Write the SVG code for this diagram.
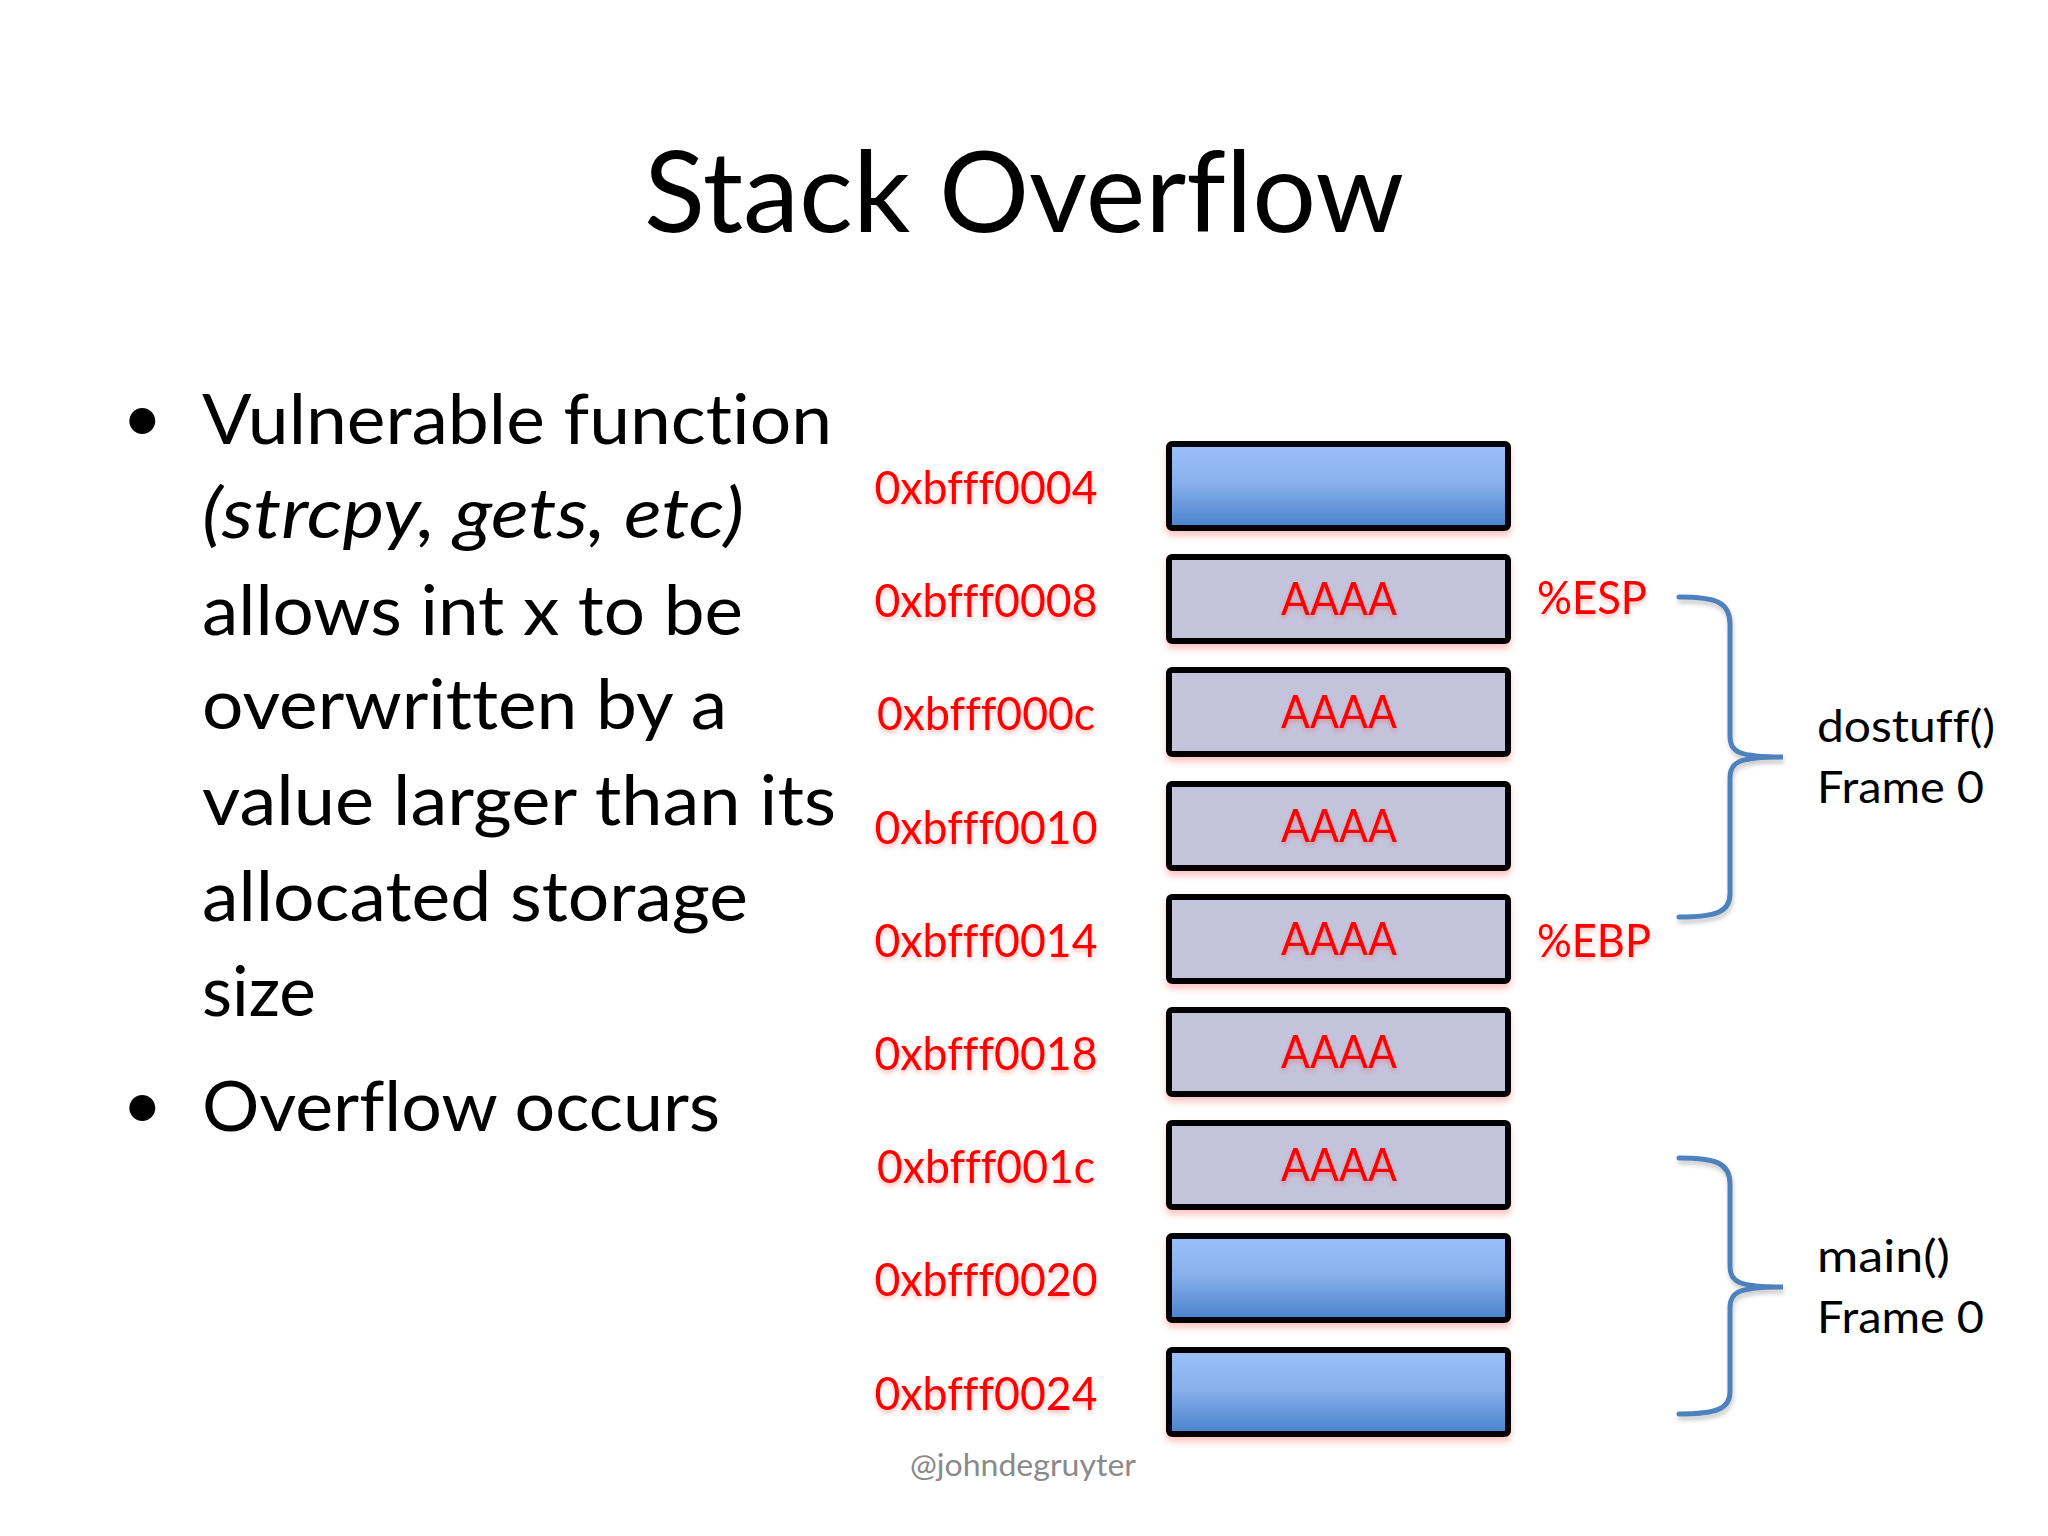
<svg xmlns="http://www.w3.org/2000/svg" width="2048" height="1536" viewBox="0 0 2048 1536">
<defs>
<linearGradient id="blue" x1="0" y1="0" x2="0" y2="1">
<stop offset="0" stop-color="#9cbff9"/>
<stop offset="0.45" stop-color="#8ab1ec"/>
<stop offset="1" stop-color="#4882cc"/>
</linearGradient>
<filter id="boxsh" x="-5%" y="-10%" width="110%" height="130%">
<feGaussianBlur in="SourceAlpha" stdDeviation="3"/>
<feOffset dy="5" result="b"/>
<feFlood flood-color="#ff5a5a" flood-opacity="0.35"/>
<feComposite in2="b" operator="in"/>
<feMerge><feMergeNode/><feMergeNode in="SourceGraphic"/></feMerge>
</filter>
<filter id="txtsh" x="-5%" y="-20%" width="110%" height="150%">
<feGaussianBlur in="SourceAlpha" stdDeviation="2"/>
<feOffset dy="3" result="b"/>
<feFlood flood-color="#ff4040" flood-opacity="0.35"/>
<feComposite in2="b" operator="in"/>
<feMerge><feMergeNode/><feMergeNode in="SourceGraphic"/></feMerge>
</filter>
<filter id="brsh" x="-20%" y="-5%" width="140%" height="110%">
<feGaussianBlur in="SourceAlpha" stdDeviation="2"/>
<feOffset dx="1" dy="4" result="b"/>
<feFlood flood-color="#000" flood-opacity="0.2"/>
<feComposite in2="b" operator="in"/>
<feMerge><feMergeNode/><feMergeNode in="SourceGraphic"/></feMerge>
</filter>
</defs>
<style>
text{font-family:Lato,"Liberation Sans",sans-serif;font-variant-ligatures:none;font-feature-settings:"liga" 0}
.title{font-size:112px;fill:#000}
.body{font-size:70px;fill:#000}
.addr{font-size:46px;fill:#ff0000;text-anchor:middle;filter:url(#txtsh)}
.reg{font-size:46px;fill:#ff0000;filter:url(#txtsh)}
.aaaa{font-size:46px;fill:#ff0000;text-anchor:middle;filter:url(#txtsh)}
.frame{font-size:45px;fill:#000}
.wm{font-size:30px;fill:#8a8a8a}
.cell{stroke:#000;stroke-width:6;filter:url(#boxsh)}
.free{fill:url(#blue)}
.used{fill:#c3c4dc}
.brace{fill:none;stroke:#4f81bd;stroke-width:5;stroke-linecap:round;filter:url(#brsh)}
</style>
<rect width="2048" height="1536" fill="#fff"/>
<text class="title" x="644" y="232" textLength="760" lengthAdjust="spacingAndGlyphs">Stack Overflow</text>
<g id="bullets">
<text class="body" x="122" y="442">•</text>
<text class="body" x="202" y="444" textLength="630" lengthAdjust="spacingAndGlyphs">Vulnerable function</text>
<text class="body" x="202" y="538" font-style="italic" textLength="542" lengthAdjust="spacingAndGlyphs">(strcpy, gets, etc)</text>
<text class="body" x="202" y="635" textLength="541" lengthAdjust="spacingAndGlyphs">allows int x to be</text>
<text class="body" x="202" y="729" textLength="525" lengthAdjust="spacingAndGlyphs">overwritten by a</text>
<text class="body" x="202" y="825" textLength="634" lengthAdjust="spacingAndGlyphs">value larger than its</text>
<text class="body" x="202" y="921" textLength="546" lengthAdjust="spacingAndGlyphs">allocated storage</text>
<text class="body" x="202" y="1016" textLength="114" lengthAdjust="spacingAndGlyphs">size</text>
<text class="body" x="122" y="1129">•</text>
<text class="body" x="202" y="1131" textLength="518" lengthAdjust="spacingAndGlyphs">Overflow occurs</text>
</g>
<g id="addresses">
<text class="addr" x="986" y="504" textLength="223" lengthAdjust="spacingAndGlyphs">0xbfff0004</text>
<text class="addr" x="986" y="617" textLength="223" lengthAdjust="spacingAndGlyphs">0xbfff0008</text>
<text class="addr" x="986" y="730" textLength="218" lengthAdjust="spacingAndGlyphs">0xbfff000c</text>
<text class="addr" x="986" y="844" textLength="223" lengthAdjust="spacingAndGlyphs">0xbfff0010</text>
<text class="addr" x="986" y="957" textLength="223" lengthAdjust="spacingAndGlyphs">0xbfff0014</text>
<text class="addr" x="986" y="1070" textLength="223" lengthAdjust="spacingAndGlyphs">0xbfff0018</text>
<text class="addr" x="986" y="1183" textLength="218" lengthAdjust="spacingAndGlyphs">0xbfff001c</text>
<text class="addr" x="986" y="1296" textLength="223" lengthAdjust="spacingAndGlyphs">0xbfff0020</text>
<text class="addr" x="986" y="1410" textLength="223" lengthAdjust="spacingAndGlyphs">0xbfff0024</text>
</g>
<g id="cell0"><rect class="cell free" x="1169" y="444" width="339" height="84" rx="3"/></g>
<g id="cell1"><rect class="cell used" x="1169" y="557" width="339" height="84" rx="3"/><text class="aaaa" x="1339" y="615" textLength="116" lengthAdjust="spacingAndGlyphs">AAAA</text></g>
<g id="cell2"><rect class="cell used" x="1169" y="670" width="339" height="84" rx="3"/><text class="aaaa" x="1339" y="728" textLength="116" lengthAdjust="spacingAndGlyphs">AAAA</text></g>
<g id="cell3"><rect class="cell used" x="1169" y="784" width="339" height="84" rx="3"/><text class="aaaa" x="1339" y="842" textLength="116" lengthAdjust="spacingAndGlyphs">AAAA</text></g>
<g id="cell4"><rect class="cell used" x="1169" y="897" width="339" height="84" rx="3"/><text class="aaaa" x="1339" y="955" textLength="116" lengthAdjust="spacingAndGlyphs">AAAA</text></g>
<g id="cell5"><rect class="cell used" x="1169" y="1010" width="339" height="84" rx="3"/><text class="aaaa" x="1339" y="1068" textLength="116" lengthAdjust="spacingAndGlyphs">AAAA</text></g>
<g id="cell6"><rect class="cell used" x="1169" y="1123" width="339" height="84" rx="3"/><text class="aaaa" x="1339" y="1181" textLength="116" lengthAdjust="spacingAndGlyphs">AAAA</text></g>
<g id="cell7"><rect class="cell free" x="1169" y="1236" width="339" height="84" rx="3"/></g>
<g id="cell8"><rect class="cell free" x="1169" y="1350" width="339" height="84" rx="3"/></g>
<g id="registers">
<text class="reg" x="1537" y="614" textLength="110" lengthAdjust="spacingAndGlyphs">%ESP</text>
<text class="reg" x="1537" y="957" textLength="114" lengthAdjust="spacingAndGlyphs">%EBP</text>
</g>
<g id="connectors">
<path class="brace" d="M1679,597 C1716,597 1730,602 1730,624 L1730,736 C1730,752 1738,757 1783,757 C1738,757 1730,762 1730,778 L1730,894 C1730,912 1716,917 1679,917"/>
<path class="brace" d="M1679,1158 C1716,1158 1730,1163 1730,1184 L1730,1266 C1730,1282 1738,1287 1783,1287 C1738,1287 1730,1292 1730,1308 L1730,1392 C1730,1409 1716,1414 1679,1414"/>
</g>
<g id="frame-dostuff">
<text class="frame" x="1817" y="742" textLength="178" lengthAdjust="spacingAndGlyphs">dostuff()</text>
<text class="frame" x="1817" y="803" textLength="167" lengthAdjust="spacingAndGlyphs">Frame 0</text>
</g>
<g id="frame-main">
<text class="frame" x="1817" y="1272" textLength="133" lengthAdjust="spacingAndGlyphs">main()</text>
<text class="frame" x="1817" y="1333" textLength="167" lengthAdjust="spacingAndGlyphs">Frame 0</text>
</g>
<text class="wm" x="910" y="1476" textLength="226" lengthAdjust="spacingAndGlyphs">@johndegruyter</text>
</svg>
